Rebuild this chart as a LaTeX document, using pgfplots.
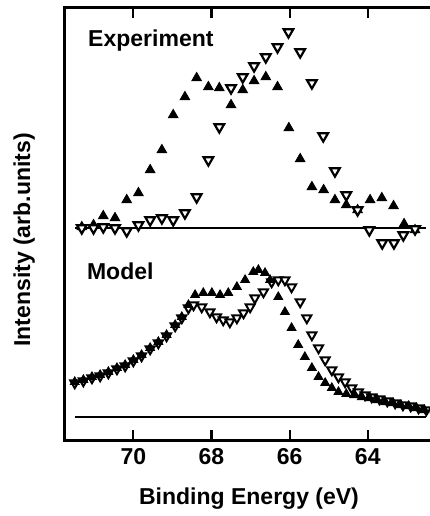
\documentclass[border=0pt]{standalone}
\usepackage{pgfplots}
\pgfplotsset{compat=1.18}
\usepackage{fontspec}
\setmainfont{Liberation Sans}
\newcommand{\bigbf}{\fontsize{23}{26}\selectfont\bfseries}
\begin{document}
\begin{tikzpicture}
\begin{axis}[
  scale only axis, width=368pt, height=432pt,
  x dir=reverse, xmin=62.33, xmax=71.75, ymin=0, ymax=432,
  xtick={64,66,68,70}, ytick=\empty,
  tick align=inside, major tick length=10pt,
  every tick/.style={black, line width=2.2pt},
  axis line style={line width=3pt},
  /pgf/number format/assume math mode=true,
  xticklabel style={font=\bigbf, yshift=-5pt},
  xlabel={Binding Energy (eV)},
  xlabel style={font=\bigbf, at={(axis description cs:0.5,0)}, anchor=north, yshift=-44pt},
  ylabel={Intensity (arb.units)},
  ylabel style={font=\bigbf, at={(axis description cs:-0.111,0.463)}, anchor=center},
  clip=true,
]
% baselines
\addplot[black, line width=2pt, no marks] coordinates {(71.49,211.7) (62.52,211.7)};
\addplot[black, line width=2pt, no marks] coordinates {(71.49,23.3) (62.52,23.3)};
% Experiment filled
\addplot[only marks, mark=triangle*, mark size=5.6pt, black, mark options={fill=black, line width=0.8pt}] coordinates {
(71.32,213) (71.02,215) (70.77,224) (70.47,222) (70.17,240) (69.87,247) (69.57,270) (69.27,290)
(68.98,325) (68.68,343) (68.38,362) (68.08,353) (67.80,352) (67.50,335) (67.20,350) (66.91,359)
(66.61,363) (66.31,353) (66.02,312) (65.73,281) (65.43,253) (65.13,250) (64.84,240) (64.55,235)
(64.26,230) (63.94,240) (63.64,242) (63.34,234) (63.07,216) (62.79,210)};
% Experiment open
\addplot[only marks, mark=triangle*, mark size=5.6pt, black, mark options={fill=white, rotate=180, line width=2.2pt}] coordinates {
(71.32,212) (71.02,212) (70.77,213) (70.47,212) (70.17,209) (69.87,215) (69.57,220) (69.27,222)
(68.98,220) (68.68,227) (68.38,243) (68.08,280) (67.80,313) (67.50,352) (67.20,363) (66.91,374)
(66.61,383) (66.31,393) (66.03,408) (65.73,388) (65.43,357) (65.14,304) (64.84,269) (64.55,245)
(64.26,230) (63.96,210) (63.63,197) (63.33,197) (63.09,205) (62.79,211)};
% Model open
\addplot[only marks, mark=triangle*, mark size=5.2pt, black, mark options={fill=white, rotate=180, line width=2pt}] coordinates {
(71.50,57) (71.28,59) (71.06,62) (70.85,64) (70.64,67) (70.42,71) (70.21,74) (70.00,79)
(69.79,84) (69.57,91) (69.36,97) (69.15,104) (68.93,114) (68.76,122) (68.59,132) (68.46,135)
(68.25,133) (68.04,128) (67.87,123) (67.70,120) (67.53,118) (67.35,122) (67.18,127) (67.01,133)
(66.89,142) (66.67,148) (66.46,158) (66.29,160) (66.12,160) (65.95,153) (65.73,138) (65.56,122)
(65.43,105) (65.26,92) (65.09,80) (64.92,70) (64.75,63) (64.58,58) (64.41,52) (64.24,48)
(64.07,45) (63.90,43) (63.70,41) (63.50,39) (63.30,37) (63.10,35) (62.90,34) (62.70,32) (62.50,30)};
% Model filled
\addplot[only marks, mark=triangle*, mark size=5.2pt, black, mark options={fill=black, line width=0.8pt}] coordinates {
(71.50,58) (71.28,60) (71.06,63) (70.85,65) (70.64,68) (70.42,72) (70.21,75) (70.00,80)
(69.79,85) (69.57,92) (69.36,98) (69.15,105) (68.93,115) (68.76,123) (68.59,135) (68.42,145)
(68.21,147) (67.99,147) (67.78,145) (67.57,147) (67.35,153) (67.14,160) (66.93,168) (66.80,170)
(66.63,167) (66.50,160) (66.29,143) (66.12,128) (65.95,112) (65.78,95) (65.61,83) (65.43,72)
(65.26,63) (65.09,57) (64.92,52) (64.75,48) (64.55,46) (64.35,45) (64.15,43) (63.95,42)
(63.75,40) (63.55,38) (63.35,37) (63.15,35) (62.95,34) (62.75,32) (62.55,30)};
\node[anchor=base west, font=\bigbf, inner sep=0pt] at (axis cs:71.16,393) {Experiment};
\node[anchor=base west, font=\bigbf, inner sep=0pt] at (axis cs:71.19,160) {Model};
\end{axis}
\pgfresetboundingbox
\path[use as bounding box] (-65pt,-76pt) rectangle (365pt,440pt);
\end{tikzpicture}
\end{document}
